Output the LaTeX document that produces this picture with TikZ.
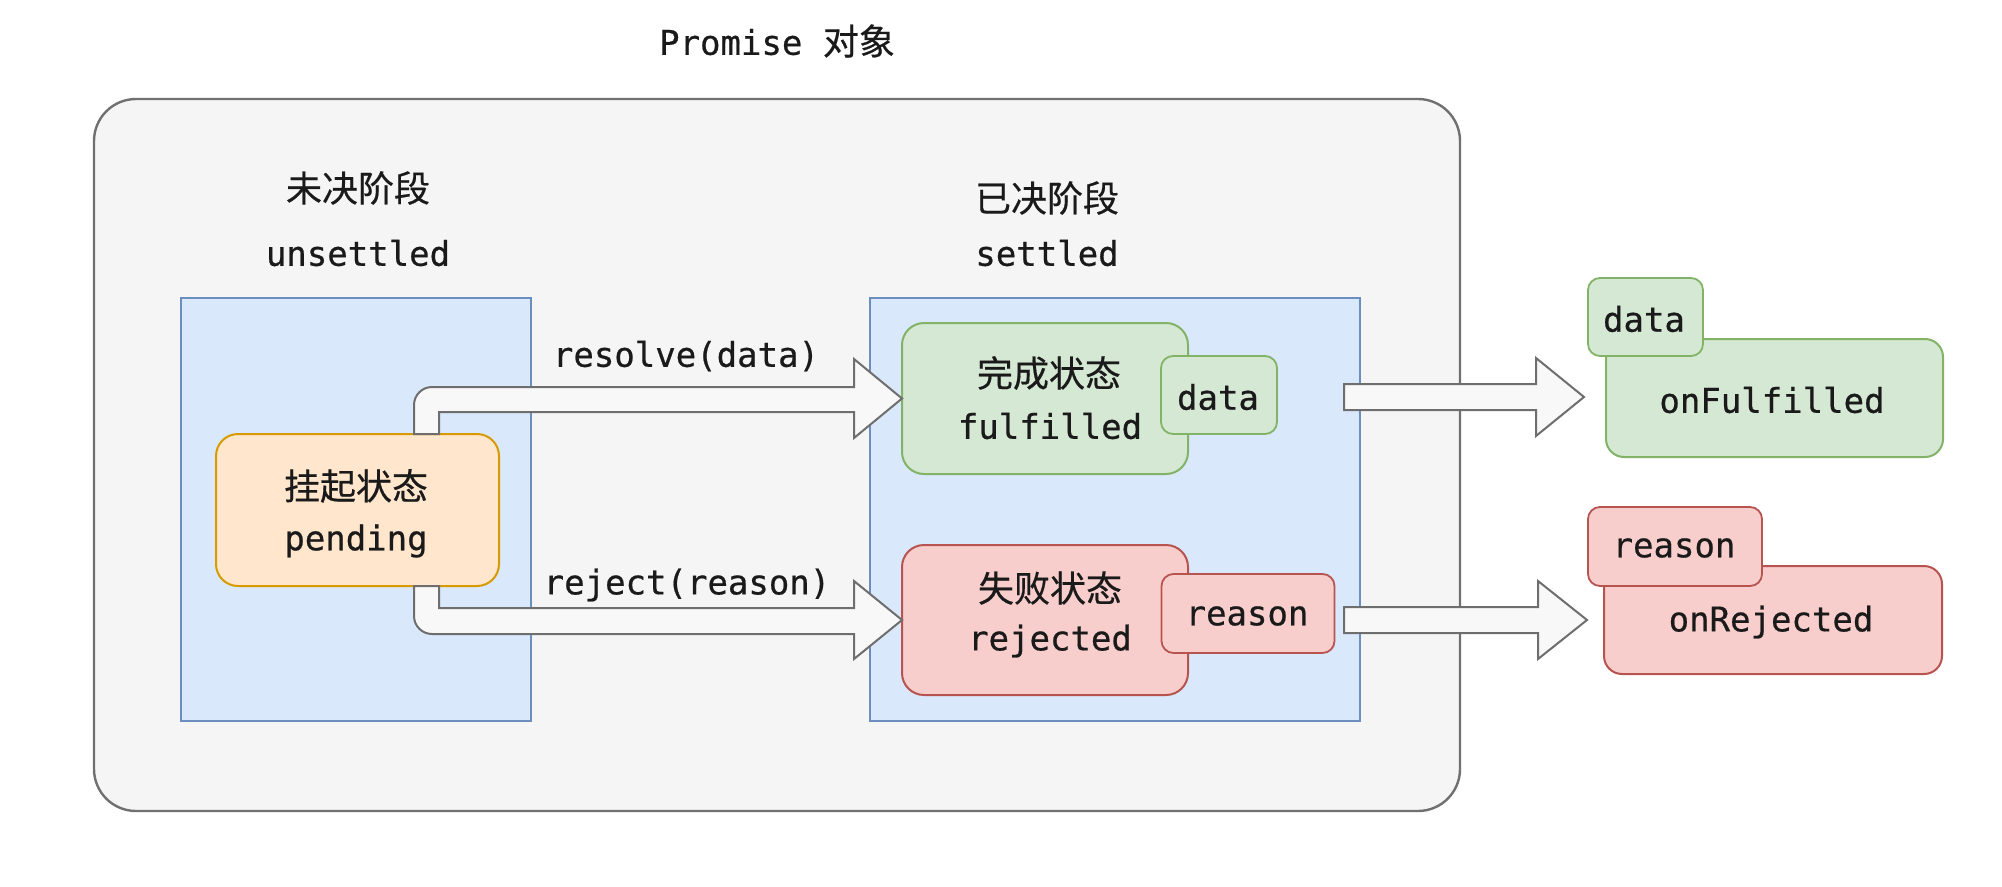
\documentclass[tikz,border=0pt]{standalone}
\usepackage{fontspec}
\setmonofont{DejaVu Sans Mono}[FakeBold=0.6]
\newfontfamily\cjk{Noto Sans CJK SC}[FakeBold=0.5]
\usetikzlibrary{calc}
\definecolor{outerfill}{HTML}{F5F5F5}
\definecolor{outerline}{HTML}{707070}
\definecolor{bluefill}{HTML}{DAE8FC}
\definecolor{blueline}{HTML}{6C8EBF}
\definecolor{orfill}{HTML}{FFE6CC}
\definecolor{orline}{HTML}{D79B00}
\definecolor{grfill}{HTML}{D5E8D4}
\definecolor{grline}{HTML}{82B366}
\definecolor{rdfill}{HTML}{F8CECC}
\definecolor{rdline}{HTML}{B85450}
\definecolor{arrfill}{HTML}{F8F8F8}
\definecolor{arrline}{HTML}{6E6E6E}
\definecolor{txt}{HTML}{1A1A1A}
\begin{document}
\begin{tikzpicture}[x=1pt,y=-1pt,
  shapebox/.style={draw, line width=2pt, inner sep=0pt, outer sep=0pt},
  stbox/.style={shapebox, rounded corners=22pt},
  smbox/.style={shapebox, rounded corners=12pt, line width=1.8pt},
  mono/.style={inner sep=0pt, text=txt, font=\ttfamily\fontsize{34}{40}\selectfont},
  cjkt/.style={inner sep=0pt, text=txt, font=\cjk\fontsize{36}{42}\selectfont},
  barrow/.style={draw=arrline, fill=arrfill, line width=2pt, line join=miter}
]
\useasboundingbox (0,0) rectangle (2002,886);
\fill[white] (0,0) rectangle (2002,886);

% title
\node[mono] (title) at (777,41) {Promise {\cjk\fontsize{36}{42}\selectfont 对象}};

% outer Promise object
\draw[fill=outerfill, draw=outerline, line width=2.4pt, rounded corners=42pt] (94,99) rectangle (1460,811);

% phase labels
\node[cjkt] (unsetcn) at (358,188) {未决阶段};
\node[mono] (unset) at (358,253) {unsettled};
\node[cjkt] (setcn) at (1047,198) {已决阶段};
\node[mono] (set) at (1047,253) {settled};

% phase areas
\node[shapebox, draw=blueline, fill=bluefill, minimum width=350pt, minimum height=423pt] (left) at (356,509.5) {};
\node[shapebox, draw=blueline, fill=bluefill, minimum width=490pt, minimum height=423pt] (right) at (1115,509.5) {};

% pending
\node[stbox, draw=orline, fill=orfill, minimum width=283pt, minimum height=152pt] (pend) at (357.5,510) {};
\node[cjkt] (pendcn) at (356,486) {挂起状态};
\node[mono] (pendt) at (356,541) {pending};

% fulfilled
\node[stbox, draw=grline, fill=grfill, minimum width=286pt, minimum height=151pt] (ful) at (1045,398.5) {};
\node[cjkt] (fulcn) at (1049,373) {完成状态};
\node[mono] (fult) at (1050,426) {fulfilled};
\node[smbox, draw=grline, fill=grfill, minimum width=116pt, minimum height=78pt] (data1) at (1219,395) {};
\node[mono] (data1t) at (1218,397) {data};

% rejected
\node[stbox, draw=rdline, fill=rdfill, minimum width=286pt, minimum height=150pt] (rej) at (1045,620) {};
\node[cjkt] (rejcn) at (1050,588) {失败状态};
\node[mono] (rejt) at (1050,641) {rejected};
\node[smbox, draw=rdline, fill=rdfill, minimum width=173pt, minimum height=79pt] (reason1) at (1248,613.5) {};
\node[mono] (reason1t) at (1247,616) {reason};

% arrows from pending
\draw[barrow] (439,434) -- (439,412) -- (854,412) -- (854,438) -- (ful.west) -- (854,359) -- (854,387) -- (432,387)
  arc[start angle=-90, end angle=-180, radius=18] -- (414,434) -- cycle;
\draw[barrow] (439,586) -- (439,608) -- (854,608) -- (854,581) -- (rej.west) -- (854,659) -- (854,634) -- (432,634)
  arc[start angle=90, end angle=180, radius=18] -- (414,586) -- cycle;
\node[mono] (resolve) at (686,356) {resolve(data)};
\node[mono] (reject) at (687,585) {reject(reason)};

% handlers
\node[shapebox, rounded corners=18pt, draw=grline, fill=grfill, minimum width=337pt, minimum height=118pt] (onf) at (1774.5,398) {};
\node[mono] (onft) at (1772,400) {onFulfilled};
\node[smbox, draw=grline, fill=grfill, minimum width=115pt, minimum height=78pt] (data2) at (1645.5,317) {};
\node[mono] (data2t) at (1644,319) {data};

\node[shapebox, rounded corners=18pt, draw=rdline, fill=rdfill, minimum width=338pt, minimum height=108pt] (onr) at (1773,620) {};
\node[mono] (onrt) at (1771,622) {onRejected};
\node[smbox, draw=rdline, fill=rdfill, minimum width=174pt, minimum height=79pt] (reason2) at (1675,546.5) {};
\node[mono] (reason2t) at (1674,548) {reason};

% arrows to handlers
\coordinate (tipf) at (1584,397);
\coordinate (tipr) at (1587,620);
\draw[barrow] (1344,384) -- (1536,384) -- (1536,358) -- (tipf) -- (1536,436) -- (1536,410) -- (1344,410) -- cycle;
\draw[barrow] (1344,607) -- (1538,607) -- (1538,581) -- (tipr) -- (1538,659) -- (1538,633) -- (1344,633) -- cycle;
\end{tikzpicture}
\end{document}
